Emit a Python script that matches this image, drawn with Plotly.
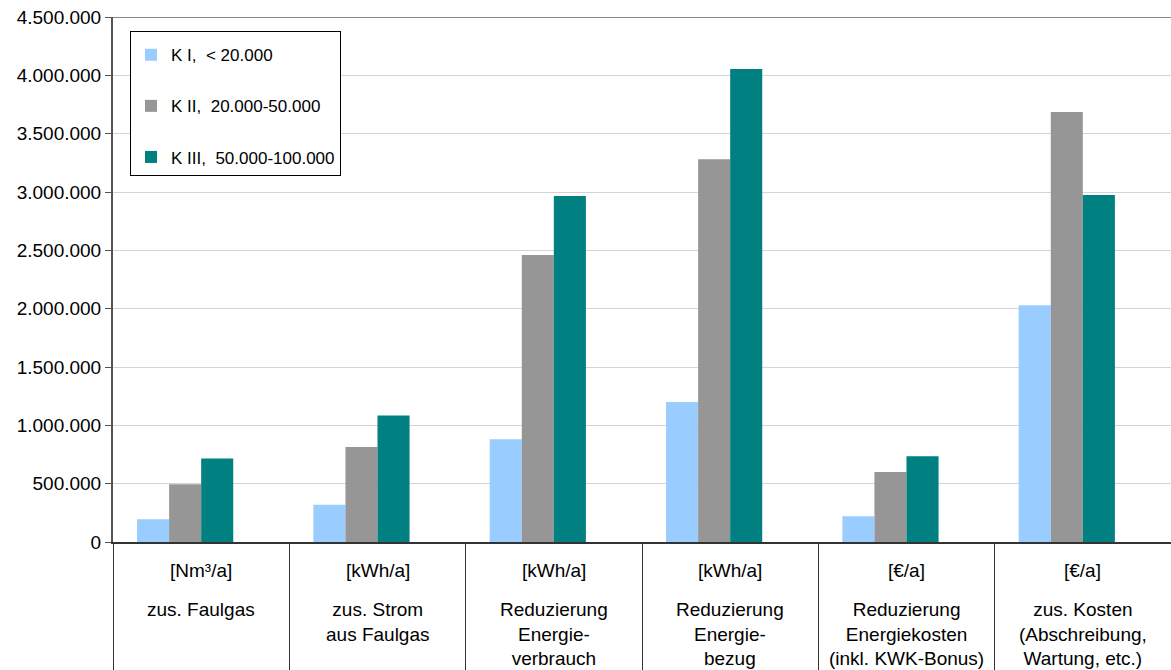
import plotly.graph_objects as go

# Categories: unit line and description lines
units = ["[Nm³/a]", "[kWh/a]", "[kWh/a]", "[kWh/a]", "[€/a]", "[€/a]"]
descriptions = [
    "zus. Faulgas",
    "zus. Strom<br>aus Faulgas",
    "Reduzierung<br>Energie-<br>verbrauch",
    "Reduzierung<br>Energie-<br>bezug",
    "Reduzierung<br>Energiekosten<br>(inkl. KWK-Bonus)",
    "zus. Kosten<br>(Abschreibung,<br>Wartung, etc.)",
]

series_names = ["K I,\u00a0 < 20.000", "K II,\u00a0 20.000-50.000", "K III,\u00a0 50.000-100.000"]
k1 = [195000, 320000, 880000, 1200000, 220000, 2030000]
k2 = [495000, 815000, 2460000, 3280000, 600000, 3685000]
k3 = [715000, 1085000, 2965000, 4055000, 735000, 2975000]
series_values = [k1, k2, k3]
colors = ["#99CCFF", "#969696", "#008080"]

y_ticks = [0, 500000, 1000000, 1500000, 2000000, 2500000, 3000000, 3500000, 4000000, 4500000]

FONT = "Liberation Sans, Arial, sans-serif"
x = list(range(len(units)))

# four bar slots per category (Excel-style, gap width 150%), last slot empty
bar_w = 1 / 5.5
start = -2 * bar_w

fig = go.Figure()
for i, (name, vals, col) in enumerate(zip(series_names, series_values, colors)):
    fig.add_trace(go.Bar(
        x=x, y=vals, name=name, marker=dict(color=col, line=dict(width=0)),
        width=bar_w, offset=start + i * bar_w, legendgroup=f"g{i}",
    ))

# unit and description labels beneath each category
for i, u in enumerate(units):
    fig.add_annotation(x=i, xref="x", y=(542 - 570) / 525, yref="y domain", text=u,
                       showarrow=False, yanchor="middle",
                       font=dict(family=FONT, size=19, color="#000"))
for i, d in enumerate(descriptions):
    fig.add_annotation(x=i, xref="x", y=(542 - 597) / 525, yref="y domain", text=d,
                       showarrow=False, yanchor="top", align="center",
                       font=dict(family=FONT, size=19, color="#000"))

# darker top border line
fig.add_shape(type="line", xref="paper", yref="y", x0=0, x1=1, y0=4500000, y1=4500000,
              line=dict(color="#888888", width=2))

fig.update_layout(
    width=1171, height=670,
    margin=dict(l=113, r=0, t=17, b=128),
    paper_bgcolor="white", plot_bgcolor="white",
    barmode="overlay",
    separators=",.",
    font=dict(family=FONT, size=18, color="#000"),
    showlegend=True,
    legend=dict(
        x=(130 - 113) / 1058, y=(542 - 31) / 525, xanchor="left", yanchor="top",
        bordercolor="#000", borderwidth=1, bgcolor="white",
        font=dict(family=FONT, size=17, color="#000"),
        tracegroupgap=26, traceorder="grouped",
        title=dict(text="\u00a0", font=dict(size=4)),
    ),
    xaxis=dict(
        range=[-0.5, len(units) - 0.5],
        tickvals=[i - 0.5 for i in range(len(units) + 1)],
        showticklabels=False,
        ticks="outside", ticklen=128, tickcolor="#333", tickwidth=1,
        showline=True, linecolor="#333", linewidth=2,
        showgrid=False, zeroline=False,
    ),
    yaxis=dict(
        range=[0, 4500000],
        tickvals=y_ticks, tickformat=",d",
        ticks="outside", ticklen=6, tickcolor="#555",
        showline=True, linecolor="#555", linewidth=2,
        gridcolor="#d4d4d4", gridwidth=1, zeroline=False,
        tickfont=dict(family=FONT, size=19, color="#000"),
    ),
)

fig.write_html("out.html")
